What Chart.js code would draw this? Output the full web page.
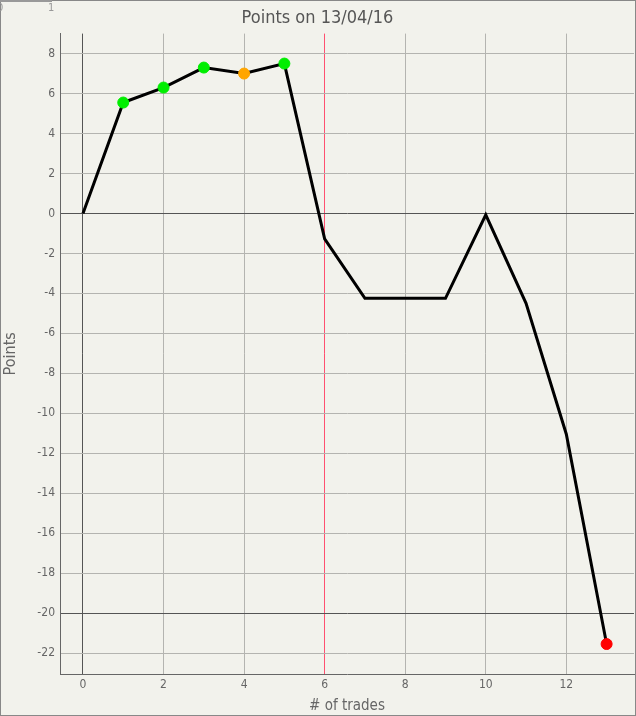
<!DOCTYPE html>
<html>
<head>
<meta charset="utf-8">
<script src="https://cdn.jsdelivr.net/npm/chart.js@4"></script>
<style>
  body { margin: 0; background: #f2f2ec; }
  #wrap { position: relative; width: 636px; height: 716px; }
  .corner { position: absolute; top: 1px; font: 11px "DejaVu Sans Condensed", "DejaVu Sans", sans-serif; color: #999; }
</style>
</head>
<body>
<div id="wrap">
  <canvas id="myChart" width="636" height="716"></canvas>
  <div class="corner" style="left:-3px">0</div>
  <div class="corner" style="left:48px">1</div>
</div>
<script>
const ctx = document.getElementById('myChart');

// trade number and running points
const trades = [0, 1, 2, 3, 4, 5, 6, 7, 8, 9, 10, 11, 12, 13];
const points = [0, 5.55, 6.3, 7.3, 7.0, 7.5, -1.27, -4.25, -4.25, -4.25, -0.07, -4.5, -11.05, -21.55];
const marker = ['', 'green', 'green', 'green', 'orange', 'green', '', '', '', '', '', '', '', 'red'];

const xTicks = [0, 2, 4, 6, 8, 10, 12];
const yTicks = [-22, -20, -18, -16, -14, -12, -10, -8, -6, -4, -2, 0, 2, 4, 6, 8];

const colorOf = { green: '#00ee00', orange: '#ffa500', red: '#ff0000' };
const font = '"DejaVu Sans Condensed", "DejaVu Sans", sans-serif';

const frame = {
  id: 'frame',
  beforeDraw(chart) {
    const c = chart.ctx;
    c.save();
    c.fillStyle = '#f2f2ec';
    c.fillRect(0, 0, chart.width, chart.height);
    c.restore();
  },
  afterDraw(chart) {
    const c = chart.ctx;
    c.save();
    c.strokeStyle = '#888';
    c.lineWidth = 1;
    c.strokeRect(0.5, 0.5, chart.width - 1, chart.height - 1);
    c.beginPath();
    c.moveTo(0, 1);
    c.lineTo(52, 1);
    c.lineWidth = 2;
    c.strokeStyle = '#999';
    c.stroke();
    c.restore();
  }
};

new Chart(ctx, {
  type: 'line',
  data: {
    labels: trades,
    datasets: [{
      label: 'Points',
      data: trades.map((t, i) => ({ x: t, y: points[i] })),
      borderColor: '#000',
      borderWidth: 3,
      tension: 0,
      pointRadius: marker.map(m => m ? 5.5 : 0),
      pointBackgroundColor: marker.map(m => colorOf[m] || '#000'),
      pointBorderColor: marker.map(m => colorOf[m] || '#000'),
      pointBorderWidth: 1
    }]
  },
  options: {
    responsive: false,
    animation: false,
    layout: { autoPadding: false, padding: { left: 1, right: 2, top: 0, bottom: 0 } },
    plugins: {
      legend: { display: false },
      tooltip: { enabled: false },
      title: {
        display: true,
        text: 'Points on 13/04/16',
        color: '#555',
        font: { family: font, size: 18, weight: 'normal' },
        padding: { top: 8, bottom: 4 }
      }
    },
    scales: {
      x: {
        type: 'linear',
        min: -0.57,
        max: 13.68,
        afterBuildTicks: s => { s.ticks = xTicks.map(v => ({ value: v })); },
        afterFit: s => { s.height = 42; s.paddingRight = 0; s.paddingLeft = 0; },
        grid: {
          drawTicks: false,
          color: c => c.tick.value === 6 ? '#ff5070' : (c.tick.value === 0 ? '#555' : '#b4b4b0'),
          lineWidth: 1
        },
        border: { display: true, color: '#666', width: 1 },
        ticks: { color: '#666', padding: 4, font: { family: font, size: 12 } },
        title: {
          display: true,
          text: '# of trades',
          color: '#666',
          font: { family: font, size: 15 },
          padding: { top: 0, bottom: 1 }
        }
      },
      y: {
        min: -23.05,
        max: 9,
        afterBuildTicks: s => { s.ticks = yTicks.map(v => ({ value: v })); },
        afterFit: s => { s.width = 59; s.paddingTop = 0; s.paddingBottom = 0; },
        grid: {
          drawTicks: false,
          color: c => (c.tick.value === 0 || c.tick.value === -20) ? '#555' : '#b4b4b0',
          lineWidth: 1
        },
        border: { display: true, color: '#666', width: 1 },
        ticks: { color: '#666', padding: 5, font: { family: font, size: 12 } },
        title: {
          display: true,
          text: 'Points',
          color: '#666',
          font: { family: font, size: 16 },
          padding: { top: 0, bottom: 2 }
        }
      }
    }
  },
  plugins: [frame]
});
</script>
</body>
</html>
